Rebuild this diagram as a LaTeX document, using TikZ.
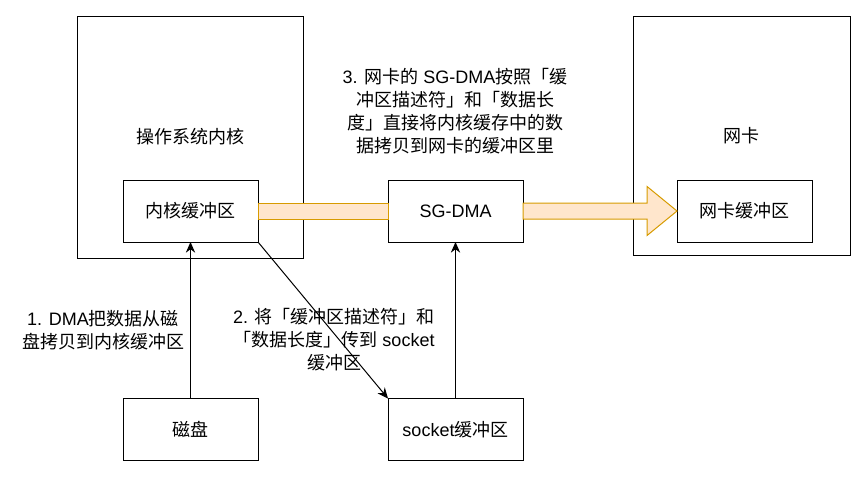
\documentclass[tikz,border=0pt]{standalone}
\usepackage{fontspec}
\setmainfont{Noto Sans CJK SC}
\newfontfamily\latinfont{Liberation Sans}
\newcommand{\lat}[1]{{\latinfont #1}}
\usetikzlibrary{arrows.meta}
\definecolor{bandfill}{HTML}{FFE6CC}
\definecolor{bandline}{HTML}{D79B00}
\tikzset{
    box/.style={draw, line width=0.75pt, inner sep=0pt, outer sep=0pt, minimum width=101.25pt, minimum height=46.5pt},
    bigbox/.style={draw, line width=0.75pt, inner sep=0pt, outer sep=0pt},
    note/.style={align=center, inner sep=0pt, font=\fontsize{13.5}{17.25}\selectfont},
    flow/.style={line width=0.75pt, -{Stealth[length=8pt,width=7pt]}},
    band/.style={fill=bandfill, draw=bandline, line width=0.75pt},
}
\begin{document}
\begin{tikzpicture}[x=0.75pt, y=-0.75pt, font=\fontsize{13.5}{17.25}\selectfont]
    \useasboundingbox (0,0) rectangle (866,479);
    % outer boxes
    \node[bigbox, minimum width=169.5pt, minimum height=181.5pt] (kernel) at (190,137) {操作系统内核};
    \node[bigbox, minimum width=162.75pt, minimum height=179.25pt] (nic) at (741.5,135.5) {网卡};
    % buffers
    \node[box] (kbuf) at (190.5,211) {内核缓冲区};
    \node[box] (sgdma) at (455.5,211) {\lat{SG-DMA}};
    \node[box] (nicbuf) at (744.5,211) {网卡缓冲区};
    \node[box] (disk) at (190.5,429.5) {磁盘};
    \node[box] (sockbuf) at (455.5,429.5) {\lat{socket}缓冲区};
    % data path
    \draw[band] ([yshift=6pt]kbuf.east) rectangle ([yshift=-6pt]sgdma.west);
    \draw[band] ([yshift=6pt]sgdma.east) -- ([xshift=-22.5pt,yshift=6pt]nicbuf.west)
        -- ([xshift=-22.5pt,yshift=18.4pt]nicbuf.west) -- (nicbuf.west)
        -- ([xshift=-22.5pt,yshift=-18.4pt]nicbuf.west) -- ([xshift=-22.5pt,yshift=-6pt]nicbuf.west)
        -- ([yshift=-6pt]sgdma.east) -- cycle;
    \draw[flow] (disk) -- (kbuf);
    \draw[flow] (sockbuf) -- (sgdma);
    \draw[flow] (kbuf.south east) -- (sockbuf.north west);
    % steps
    \node[note] (step1) at (103,330) {\lat{1. DMA}把数据从磁\\盘拷贝到内核缓冲区};
    \node[note] (step2) at (334,340) {\lat{2. }将「缓冲区描述符」和\\「数据长度」传到\lat{ socket}\\缓冲区};
    \node[note] (step3) at (455,111) {\lat{3. }网卡的\lat{ SG-DMA}按照「缓\\冲区描述符」和「数据长\\度」直接将内核缓存中的数\\据拷贝到网卡的缓冲区里};
\end{tikzpicture}
\end{document}
